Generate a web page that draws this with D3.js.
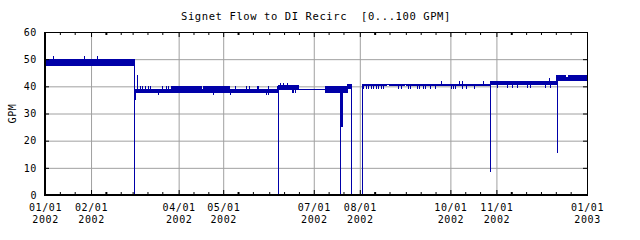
<!DOCTYPE html>
<html>
<head>
<meta charset="utf-8">
<script src="https://cdn.jsdelivr.net/npm/d3@7"></script>
<style>
  body { margin: 0; background: #fff; }
  text { font-family: 'DejaVu Sans Mono', monospace; font-size: 10px; letter-spacing: 0.6px; fill: #000; }
  text.title { font-size: 10.5px; }
</style>
</head>
<body>
<div id="chart"></div>
<script>
// Envelope of the dense flow trace: each segment starts at envDates[i] and runs to the next date
const envDates = ['2002-01-01T00', '2002-03-02T06', '2002-03-27T07', '2002-04-16T12', '2002-04-17T10',
                  '2002-05-05T14', '2002-06-07T02', '2002-06-21T01', '2002-07-08T14', '2002-07-24T00',
                  '2002-07-26T14', '2002-08-02T12', '2002-08-19T02', '2002-08-21T07', '2002-08-31T10',
                  '2002-09-01T14', '2002-10-27T17', '2002-12-11T14', '2002-12-17T05', '2002-12-19T05',
                  '2003-01-01T00'];
const envLow  = [47.8, 37.9, 37.9, 37.9, 37.9, 37.9, 39.0, 39.0, 37.9, 39.1,
                 0,    40.2, 40.5, 40.2, 40.5, 40.2, 40.5, 42.2, 42.2, 42.2];
const envHigh = [49.9, 38.8, 40.0, 38.8, 40.0, 38.8, 40.4, 39.0, 39.8, 40.6,
                 0,    40.8, 40.5, 40.8, 40.5, 40.8, 41.9, 44.1, 43.4, 44.1];

// Single readings that stick out of the envelope (spikes and drops)
const spikeDates = ['2002-01-06T14', '2002-01-27T11', '2002-02-04T20',
                    '2002-03-02T06', '2002-03-02T14', '2002-03-04T04', '2002-03-05T23', '2002-03-07T12',
                    '2002-03-09T07', '2002-03-11T04', '2002-03-12T17', '2002-03-17T22', '2002-03-21T00',
                    '2002-03-23T07', '2002-03-24T14', '2002-04-24T07', '2002-05-05T14', '2002-05-08T23',
                    '2002-05-16T05', '2002-05-18T10', '2002-05-23T14', '2002-05-24T14', '2002-05-29T14',
                    '2002-05-31T00', '2002-05-31T10', '2002-06-06T00', '2002-06-07T02', '2002-06-08T07',
                    '2002-06-10T12', '2002-06-12T19', '2002-06-16T02', '2002-06-17T05', '2002-06-18T10',
                    '2002-07-09T22', '2002-07-12T14', '2002-07-15T07', '2002-07-17T07', '2002-07-18T17',
                    '2002-07-19T10', '2002-07-19T22',
                    '2002-08-03T10', '2002-08-05T05', '2002-08-06T17', '2002-08-08T12', '2002-08-10T02',
                    '2002-08-11T17', '2002-08-13T12', '2002-08-15T02', '2002-08-16T19',
                    '2002-08-26T22', '2002-08-28T10', '2002-09-02T17', '2002-09-04T02', '2002-09-08T07',
                    '2002-09-09T17', '2002-09-12T19', '2002-09-14T05', '2002-09-17T07', '2002-09-20T14',
                    '2002-09-24T17', '2002-10-01T10', '2002-10-03T00', '2002-10-04T02', '2002-10-07T00',
                    '2002-10-08T14', '2002-10-09T00', '2002-10-11T12', '2002-10-17T05', '2002-10-23T05',
                    '2002-10-27T22',
                    '2002-11-01T02', '2002-11-07T22', '2002-11-11T07', '2002-11-14T17', '2002-11-21T10',
                    '2002-11-23T14', '2002-12-03T17', '2002-12-06T14', '2002-12-07T02',
                    '2002-12-11T14', '2002-12-12T02'];
const spikeValues = [51.2, 51.2, 51.2,
                     0, 35, 44.2, 40.1, 40.1,
                     40.1, 40.1, 40.1, 36.8, 40.1,
                     40.1, 40.1, 36.8, 36.8, 40.1,
                     40.1, 40.1, 40.1, 40.1, 36.8,
                     36.8, 40.1, 40.1, 0, 41.1,
                     41.1, 41.1, 37.7, 37.7, 37.7,
                     40.2, 40.2, 40.2, 40.2, 0,
                     25, 25,
                     38.9, 38.9, 38.9, 38.9, 38.9,
                     38.9, 38.9, 38.9, 38.9,
                     38.9, 38.9, 38.9, 38.9, 38.9,
                     38.9, 38.9, 38.9, 38.9, 38.9,
                     42.0, 38.9, 38.9, 38.9, 42.0,
                     42.0, 38.9, 38.9, 38.9, 42.0,
                     8.6,
                     39.3, 39.3, 39.3, 39.3, 39.3,
                     39.3, 39.3, 43.0, 39.3,
                     15.6, 15.6];

// Axis labels
const labelDates = ['2002-01-01', '2002-02-01', '2002-04-01', '2002-05-01', '2002-07-01',
                    '2002-08-01', '2002-10-01', '2002-11-01', '2003-01-01'];
const yTicks = [0, 10, 20, 30, 40, 50, 60];
const titleText = 'Signet Flow to DI Recirc  [0...100 GPM]';
const yTitle = 'GPM';

document.addEventListener('DOMContentLoaded', function () {
  const w = 640;
  const h = 240;
  const left = 45, right = 587, top = 32, bottom = 195;
  const blue = '#0000a8';
  const gray = '#a0a0a0';

  const parseTime = d3.timeParse('%Y-%m-%dT%H');
  const parseDay = d3.timeParse('%Y-%m-%d');
  const start = parseDay('2002-01-01');
  const end = parseDay('2003-01-01');

  const svg = d3.select('#chart')
                .append('svg')
                .attr('width', w)
                .attr('height', h);

  // # Scales
  const x = d3.scaleTime().domain([start, end]).range([left, right]);
  const y = d3.scaleLinear().domain([0, 60]).range([bottom, top]);

  const labels = labelDates.map(parseDay);
  const gridDates = labels.filter(d => +d !== +start && +d !== +end);
  const minorDates = d3.timeDay.range(start, d3.timeDay.offset(end, 1))
                       .filter(d => [1, 11, 21].includes(d.getDate()) && !labels.some(l => +l === +d));

  // # Grid
  svg.append('g')
     .attr('transform', 'translate(0,' + bottom + ')')
     .call(d3.axisBottom(x).tickValues(gridDates).tickSize(-(bottom - top)).tickFormat(''))
     .call(g => g.select('.domain').remove())
     .selectAll('line').attr('stroke', gray);
  svg.append('g')
     .attr('transform', 'translate(' + left + ',0)')
     .call(d3.axisLeft(y).tickValues([10, 20, 30, 40, 50]).tickSize(-(right - left)).tickFormat(''))
     .call(g => g.select('.domain').remove())
     .selectAll('line').attr('stroke', gray);

  // # Data envelope
  const envPoints = envDates.map((d, i) => ({
    date: parseTime(d),
    low: i < envLow.length ? envLow[i] : envLow[envLow.length - 1],
    high: i < envHigh.length ? envHigh[i] : envHigh[envHigh.length - 1]
  }));
  const area = d3.area()
                 .x(d => x(d.date))
                 .y0(d => y(d.low))
                 .y1(d => y(d.high))
                 .curve(d3.curveStepAfter);
  svg.append('path')
     .datum(envPoints)
     .attr('d', area)
     .attr('fill', blue)
     .attr('stroke', blue)
     .attr('stroke-width', 1)
     .attr('shape-rendering', 'crispEdges');

  // # Spikes
  const bisect = d3.bisector(d => d.date).right;
  const envAt = date => envPoints[Math.max(0, Math.min(envPoints.length - 2, bisect(envPoints, date) - 1))];
  const spikes = spikeDates.map((d, i) => ({ date: parseTime(d), value: spikeValues[i] }));
  svg.selectAll('.spike')
     .data(spikes)
     .enter()
     .append('line')
     .attr('class', 'spike')
     .attr('x1', d => Math.round(x(d.date)) + 0.5)
     .attr('x2', d => Math.round(x(d.date)) + 0.5)
     .attr('y1', d => y(d.value))
     .attr('y2', d => {
       const e = envAt(d.date);
       return y(d.value > e.high ? e.high : e.low);
     })
     .attr('stroke', blue)
     .attr('stroke-width', 1)
     .attr('shape-rendering', 'crispEdges');

  // # Ticks (all pointing inward)
  const tickStyle = g => {
    g.select('.domain').remove();
    g.selectAll('line')
     .attr('stroke', '#000')
     .attr('stroke-width', d => (d instanceof Date && d.getDate() === 11 && d.getMonth() % 3 === 1) ? 2 : 1);
  };
  svg.append('g')
     .attr('transform', 'translate(0,' + bottom + ')')
     .call(d3.axisBottom(x).tickValues(minorDates).tickSize(-3).tickFormat(''))
     .call(tickStyle);
  svg.append('g')
     .attr('transform', 'translate(0,' + top + ')')
     .call(d3.axisTop(x).tickValues(minorDates).tickSize(-3).tickFormat(''))
     .call(tickStyle);
  svg.append('g')
     .attr('transform', 'translate(0,' + top + ')')
     .call(d3.axisTop(x).tickValues(labels).tickSize(-5).tickFormat(''))
     .call(tickStyle);
  svg.append('g')
     .attr('transform', 'translate(' + right + ',0)')
     .call(d3.axisRight(y).tickValues(yTicks).tickSize(-4).tickFormat(''))
     .call(tickStyle);

  // ## x labels: date line from the axis, year line as its own text below
  const xAxis = svg.append('g')
                   .attr('transform', 'translate(0,' + bottom + ')')
                   .call(d3.axisBottom(x).tickValues(labels).tickSize(-5).tickPadding(9)
                                          .tickFormat(d3.timeFormat('%m/%d')))
                   .call(tickStyle);
  xAxis.selectAll('.tick')
       .append('text')
       .attr('class', 'year')
       .attr('y', 9)
       .attr('dy', '0.71em')
       .attr('transform', 'translate(0,11.8)')
       .attr('text-anchor', 'middle')
       .text(d => d3.timeFormat('%Y')(d));

  // ## y labels
  svg.append('g')
     .attr('transform', 'translate(' + left + ',0)')
     .call(d3.axisLeft(y).tickValues(yTicks).tickSize(-4).tickPadding(8))
     .call(tickStyle);

  // # Frame
  svg.append('line').attr('x1', left - 1).attr('x2', right + 1).attr('y1', top + 0.5).attr('y2', top + 0.5)
     .attr('stroke', '#000');
  svg.append('line').attr('x1', right + 0.5).attr('x2', right + 0.5).attr('y1', top).attr('y2', bottom + 1)
     .attr('stroke', '#000');
  svg.append('line').attr('x1', left).attr('x2', left).attr('y1', top).attr('y2', bottom + 1)
     .attr('stroke', '#000').attr('stroke-width', 2);
  svg.append('line').attr('x1', left - 1).attr('x2', right + 1).attr('y1', bottom).attr('y2', bottom)
     .attr('stroke', '#000').attr('stroke-width', 2);

  // # Titles
  svg.append('text')
     .attr('class', 'title')
     .attr('x', (left + right) / 2)
     .attr('y', 19.5)
     .attr('text-anchor', 'middle')
     .style('white-space', 'pre')
     .text(titleText);
  svg.append('text')
     .attr('transform', 'translate(12,' + (top + bottom) / 2 + ') rotate(-90)')
     .attr('text-anchor', 'middle')
     .attr('dy', '0.35em')
     .text(yTitle);
});
</script>
</body>
</html>
